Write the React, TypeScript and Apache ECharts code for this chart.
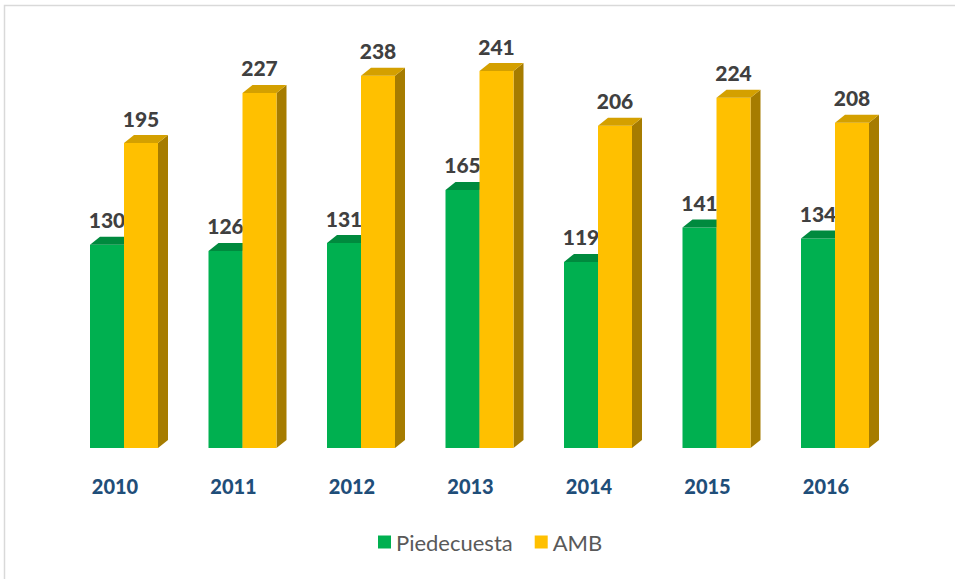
import React, { useEffect, useRef } from "react";
import * as echarts from "echarts";

const years = ["2010", "2011", "2012", "2013", "2014", "2015", "2016"];
const piedecuesta = [130, 126, 131, 165, 119, 141, 134];
const amb = [195, 227, 238, 241, 206, 224, 208];

const FRONT_W = 34;
const DX = 10;
const DY = 8;

function makeRender(offset: number, front: string, top: string, side: string) {
  return (params: any, api: any) => {
    const idx = api.value(0);
    const val = api.value(1);
    const p = api.coord([idx, val]);
    const b = api.coord([idx, 0]);
    const x0 = p[0] + offset;
    const x1 = x0 + FRONT_W;
    const yT = p[1];
    const yB = b[1];
    return {
      type: "group",
      children: [
        {
          type: "polygon",
          shape: { points: [[x1, yT], [x1 + DX, yT - DY], [x1 + DX, yB - DY], [x1, yB]] },
          style: { fill: side },
        },
        {
          type: "rect",
          shape: { x: x0, y: yT, width: FRONT_W, height: yB - yT },
          style: { fill: front },
        },
        {
          type: "polygon",
          shape: { points: [[x0, yT], [x0 + DX, yT - DY], [x1 + DX, yT - DY], [x1, yT]] },
          style: { fill: top },
        },
        {
          type: "text",
          style: {
            text: String(val),
            x: (x0 + x1) / 2,
            y: yT - 25,
            align: "center",
            verticalAlign: "middle",
            font: "900 21px Lato",
            fill: "#404040",
          },
        },
      ],
    };
  };
}

export default function App() {
  const ref = useRef<HTMLDivElement>(null);
  useEffect(() => {
    if (!ref.current) return;
    const chart = echarts.init(ref.current, undefined, { renderer: "svg" });
    chart.setOption({
      animation: false,
      backgroundColor: "#ffffff",
      graphic: [
        {
          type: "rect",
          shape: { x: 4.5, y: 5.5, width: 1000, height: 1000 },
          style: { fill: "none", stroke: "#D9D9D9", lineWidth: 1.5 },
          silent: true,
        },
      ],
      grid: { left: 55.75, right: 69.75, top: 57, bottom: 131 },
      xAxis: {
        type: "category",
        data: years,
        axisLine: { show: false },
        axisTick: { show: false },
        axisLabel: {
          margin: 28,
          fontFamily: "Lato",
          fontWeight: 900,
          fontSize: 20,
          color: "#1F4E79",
        },
      },
      yAxis: {
        type: "value",
        min: 0,
        max: 250,
        show: false,
        splitLine: { show: false },
      },
      legend: {
        left: 378,
        top: 531,
        padding: 0,
        itemWidth: 13,
        itemHeight: 13,
        itemGap: 22,
        icon: "rect",
        textStyle: { fontFamily: "Lato", fontSize: 22, color: "#595959" },
        data: ["Piedecuesta", "AMB"],
      },
      series: [
        {
          name: "Piedecuesta",
          type: "custom",
          itemStyle: { color: "#00B050" },
          renderItem: makeRender(-25, "#00B050", "#008A3E", "#006E32"),
          data: piedecuesta.map((v, i) => [i, v]),
          z: 2,
        },
        {
          name: "AMB",
          type: "custom",
          itemStyle: { color: "#FFC000" },
          renderItem: makeRender(9, "#FFC000", "#D4A000", "#A67C00"),
          data: amb.map((v, i) => [i, v]),
          z: 3,
        },
      ],
    });
    return () => chart.dispose();
  }, []);
  return (
    <div
      ref={ref}
      style={{ position: "absolute", left: 0, top: 0, width: 955, height: 579 }}
    />
  );
}
